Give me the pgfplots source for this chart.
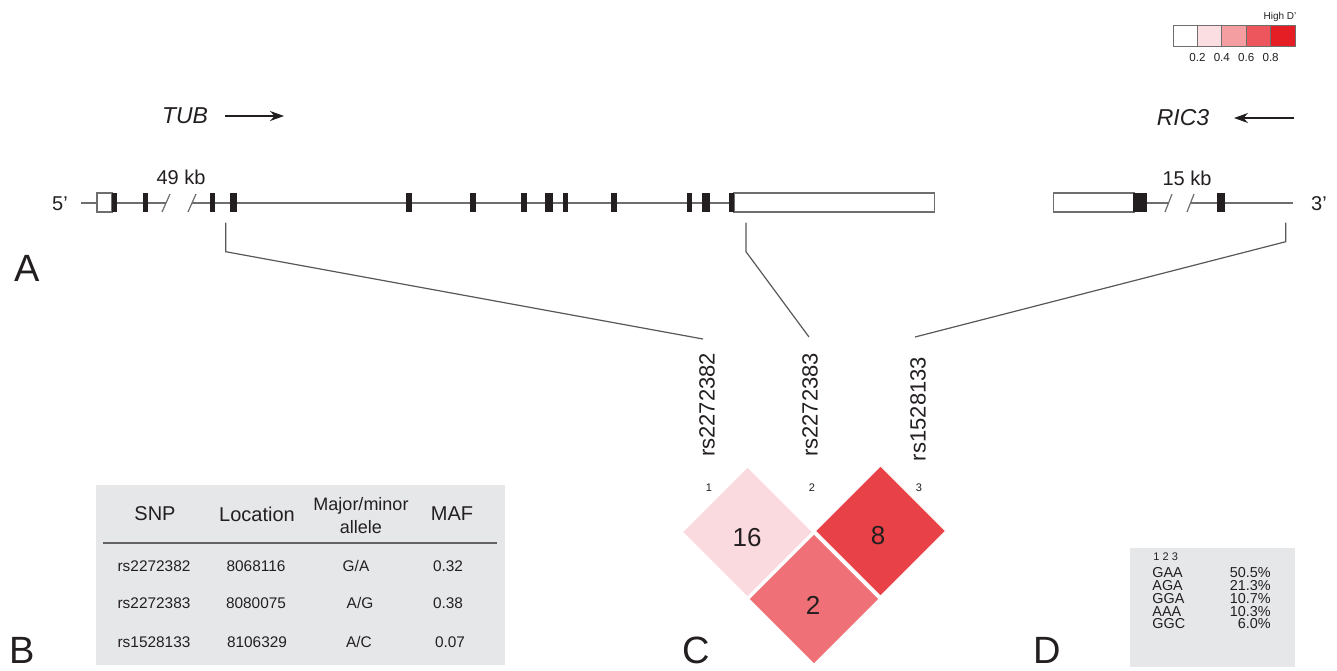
\documentclass[border=0pt]{standalone}
\usepackage{pgfplots}
\pgfplotsset{compat=1.18}
\usepackage{fontspec}
\setmainfont{Liberation Sans}
\usetikzlibrary{arrows.meta}
\newcommand\fs[1]{\fontsize{#1}{#1}\selectfont}
\definecolor{ldA}{RGB}{250,218,222}
\definecolor{ldB}{RGB}{239,113,119}
\definecolor{ldC}{RGB}{232,65,71}
\definecolor{lg1}{RGB}{251,222,225}
\definecolor{lg2}{RGB}{245,158,162}
\definecolor{lg3}{RGB}{237,86,92}
\definecolor{lg4}{RGB}{229,30,38}
\definecolor{tblbg}{RGB}{229,231,233}
\definecolor{txt}{RGB}{35,31,32}
\definecolor{gl}{RGB}{110,110,110}
\newcommand\exon[2]{\addplot[fill=txt,draw=none] coordinates {(#1,193)(#2,193)(#2,212)(#1,212)} --cycle;}
\newcommand\wbox[2]{\addplot[fill=white,draw=gl,line width=0.6pt] coordinates {(#1,193)(#2,193)(#2,212)(#1,212)} --cycle;}
\newcommand\lgbox[3]{\addplot[fill=#3,draw=gl,line width=0.5pt] coordinates {(#1,25)(#2,25)(#2,46)(#1,46)} --cycle;}
\begin{document}
\begin{tikzpicture}
\begin{axis}[width=668.5pt,height=333.5pt,scale only axis,
  xmin=0,xmax=1337,ymin=0,ymax=667,y dir=reverse,
  axis lines=none,clip=false]
% background
\addplot[fill=white,draw=none] coordinates {(0,0)(1337,0)(1337,667)(0,667)} --cycle;
% legend
\lgbox{1173}{1197.4}{white}
\lgbox{1197.4}{1221.8}{lg1}
\lgbox{1221.8}{1246.2}{lg2}
\lgbox{1246.2}{1270.6}{lg3}
\lgbox{1270.6}{1295}{lg4}
\node[font=\fs{5},text=txt] at (axis cs:1280,17) {High D'};
\node[font=\fs{5.8},text=txt] at (axis cs:1197.4,58) {0.2};
\node[font=\fs{5.8},text=txt] at (axis cs:1221.8,58) {0.4};
\node[font=\fs{5.8},text=txt] at (axis cs:1246.2,58) {0.6};
\node[font=\fs{5.8},text=txt] at (axis cs:1270.6,58) {0.8};
% gene names and arrows
\node[font=\fs{11.5}\itshape,text=txt] at (axis cs:185,116) {TUB};
\addplot[txt,line width=0.8pt,-{Stealth[length=7pt,width=5pt]}] coordinates {(225,116)(284,116)};
\node[font=\fs{11.5}\itshape,text=txt] at (axis cs:1183,118) {RIC3};
\addplot[txt,line width=0.8pt,-{Stealth[length=7pt,width=5pt]}] coordinates {(1294,118)(1234,118)};
% gene lines
\addplot[gl,line width=0.6pt] coordinates {(81,203)(166,203)};
\addplot[gl,line width=0.6pt] coordinates {(192,203)(734,203)};
\addplot[gl,line width=0.6pt] coordinates {(162,212)(170,194)};
\addplot[gl,line width=0.6pt] coordinates {(188,212)(196,194)};
\addplot[gl,line width=0.6pt] coordinates {(1146,203)(1168,203)};
\addplot[gl,line width=0.6pt] coordinates {(1190,203)(1293,203)};
\addplot[gl,line width=0.6pt] coordinates {(1165,212)(1172,194)};
\addplot[gl,line width=0.6pt] coordinates {(1187,212)(1194,194)};
\wbox{97}{112}
\wbox{734}{934.6}
\wbox{1053.3}{1134}
\exon{111.7}{117.3}
\exon{143.3}{148.3}
\exon{210}{215}
\exon{230}{236.7}
\exon{406.4}{411.8}
\exon{469.6}{475.7}
\exon{521.4}{526.8}
\exon{544.6}{552.9}
\exon{562.5}{567.9}
\exon{610.7}{616.8}
\exon{686.8}{691.8}
\exon{701.8}{709.6}
\exon{728.6}{733.9}
\exon{1133.3}{1146.7}
\exon{1216.7}{1225}
\node[font=\fs{10},text=txt] at (axis cs:181,177) {49 kb};
\node[font=\fs{10},text=txt] at (axis cs:1187,178) {15 kb};
\node[font=\fs{10},text=txt] at (axis cs:60,204) {5'};
\node[font=\fs{10},text=txt] at (axis cs:1319,204) {3'};
% connectors
\addplot[gl!80!black,line width=0.6pt] coordinates {(225.7,222.7)(225.7,251.7)(703,339)};
\addplot[gl!80!black,line width=0.6pt] coordinates {(746,222.7)(746,251.7)(809,337)};
\addplot[gl!80!black,line width=0.6pt] coordinates {(1285.7,222.7)(1285.7,241.7)(915,337)};
% SNP labels
\node[font=\fs{11},text=txt,rotate=90] at (axis cs:707,405) {rs2272382};
\node[font=\fs{11},text=txt,rotate=90] at (axis cs:810,405) {rs2272383};
\node[font=\fs{11},text=txt,rotate=90] at (axis cs:918,409) {rs1528133};
\node[font=\fs{5.5},text=txt] at (axis cs:709,488) {1};
\node[font=\fs{5.5},text=txt] at (axis cs:812,488) {2};
\node[font=\fs{5.5},text=txt] at (axis cs:919,488) {3};
% LD diamonds
\addplot[fill=ldA,draw=white,line width=0.5pt] coordinates {(682.5,532)(747.5,467)(812.5,532)(747.5,597)} --cycle;
\addplot[fill=ldC,draw=white,line width=0.5pt] coordinates {(815.5,531)(880.5,466)(945.5,531)(880.5,596)} --cycle;
\addplot[fill=ldB,draw=white,line width=0.5pt] coordinates {(814,534)(879,599)(814,664)(749,599)} --cycle;
\node[font=\fs{13},text=txt] at (axis cs:747,538) {16};
\node[font=\fs{13},text=txt] at (axis cs:878,536) {8};
\node[font=\fs{13},text=txt] at (axis cs:813,605) {2};
% Table B
\addplot[fill=tblbg,draw=none] coordinates {(96,485)(505,485)(505,665)(96,665)} --cycle;
\addplot[txt!70,line width=0.7pt] coordinates {(103,543)(497,543)};
\node[font=\fs{10},text=txt] at (axis cs:155,514) {SNP};
\node[font=\fs{10},text=txt] at (axis cs:257,514) {Location};
\node[font=\fs{9},text=txt] at (axis cs:361,506) {Major/minor};
\node[font=\fs{9},text=txt] at (axis cs:361,527) {allele};
\node[font=\fs{10},text=txt] at (axis cs:452,514) {MAF};
\node[font=\fs{7.7},text=txt] at (axis cs:154,566) {rs2272382};
\node[font=\fs{7.7},text=txt] at (axis cs:154,603) {rs2272383};
\node[font=\fs{7.7},text=txt] at (axis cs:154,642) {rs1528133};
\node[font=\fs{7.7},text=txt] at (axis cs:256,566) {8068116};
\node[font=\fs{7.7},text=txt] at (axis cs:256,603) {8080075};
\node[font=\fs{7.7},text=txt] at (axis cs:257,642) {8106329};
\node[font=\fs{7.7},text=txt] at (axis cs:356,566) {G/A};
\node[font=\fs{7.7},text=txt] at (axis cs:360,603) {A/G};
\node[font=\fs{7.7},text=txt] at (axis cs:359,642) {A/C};
\node[font=\fs{7.7},text=txt] at (axis cs:448,566) {0.32};
\node[font=\fs{7.7},text=txt] at (axis cs:448,603) {0.38};
\node[font=\fs{7.7},text=txt] at (axis cs:450,642) {0.07};
% Table D
\addplot[fill=tblbg,draw=none] coordinates {(1130,548)(1295,548)(1295,667)(1130,667)} --cycle;
\node[font=\fs{5.5},text=txt,anchor=west,inner sep=0pt] at (axis cs:1153,557) {1 2 3};
\node[font=\fs{7.2},text=txt,anchor=west,inner sep=0pt] at (axis cs:1152,573) {GAA};
\node[font=\fs{7.2},text=txt,anchor=west,inner sep=0pt] at (axis cs:1152,586) {AGA};
\node[font=\fs{7.2},text=txt,anchor=west,inner sep=0pt] at (axis cs:1152,599) {GGA};
\node[font=\fs{7.2},text=txt,anchor=west,inner sep=0pt] at (axis cs:1152,612) {AAA};
\node[font=\fs{7.2},text=txt,anchor=west,inner sep=0pt] at (axis cs:1152,624) {GGC};
\node[font=\fs{7.2},text=txt,anchor=east,inner sep=0pt] at (axis cs:1271,573) {50.5\%};
\node[font=\fs{7.2},text=txt,anchor=east,inner sep=0pt] at (axis cs:1271,586) {21.3\%};
\node[font=\fs{7.2},text=txt,anchor=east,inner sep=0pt] at (axis cs:1271,599) {10.7\%};
\node[font=\fs{7.2},text=txt,anchor=east,inner sep=0pt] at (axis cs:1271,612) {10.3\%};
\node[font=\fs{7.2},text=txt,anchor=east,inner sep=0pt] at (axis cs:1271,624) {6.0\%};
% panel letters
\node[font=\fs{19},text=txt] at (axis cs:27,268) {A};
\node[font=\fs{19},text=txt] at (axis cs:22,650) {B};
\node[font=\fs{19},text=txt] at (axis cs:696,650) {C};
\node[font=\fs{19},text=txt] at (axis cs:1047,650) {D};
\end{axis}
\end{tikzpicture}
\end{document}
